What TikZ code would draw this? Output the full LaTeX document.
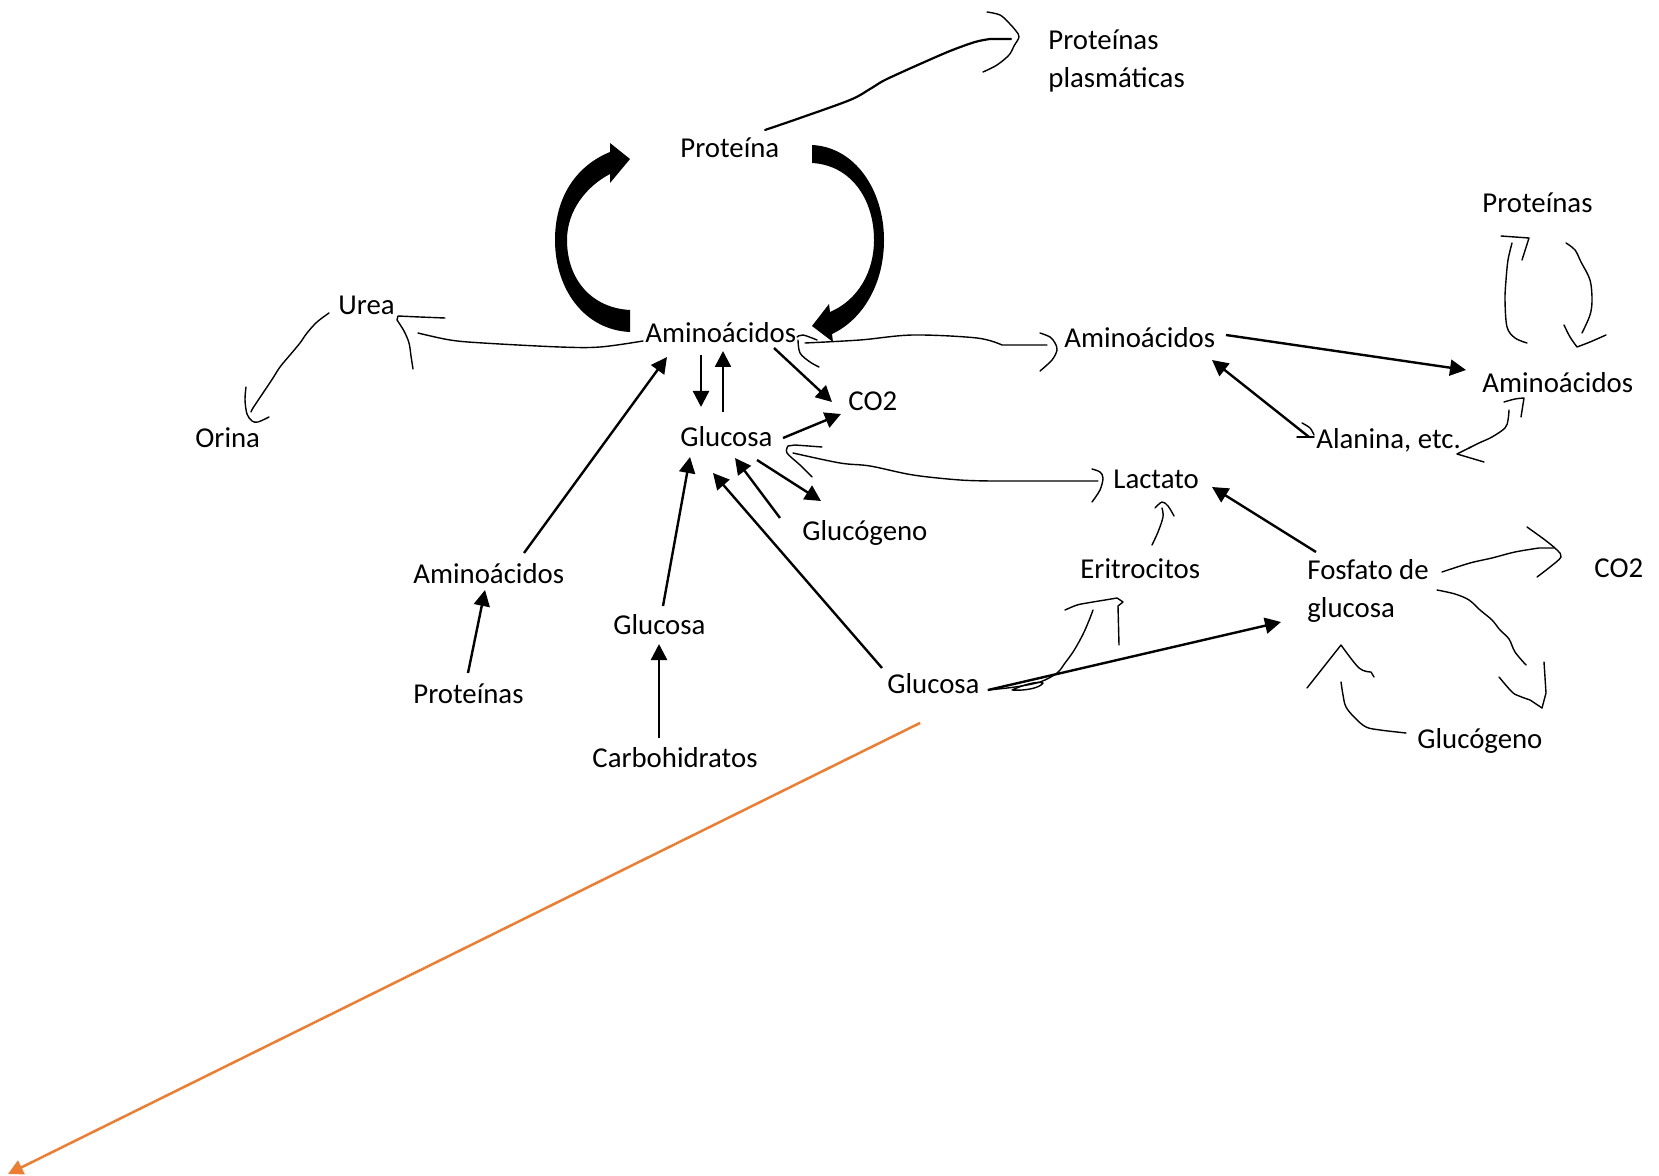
\documentclass[tikz,border=0pt]{standalone}
\usepackage{fontspec}
\setmainfont{Carlito}
\usetikzlibrary{arrows.meta,calc}
\definecolor{orng}{RGB}{237,125,49}
\begin{document}
\begin{tikzpicture}[x=0.5pt,y=-0.5pt,
  lbl/.style={inner sep=0pt, anchor=base west, font=\fontsize{14.4pt}{19pt}\selectfont},
  arr/.style={line width=1.2pt, -{Triangle[length=8pt,width=8pt]}},
  orarr/.style={draw=orng, line width=1.25pt, -{Triangle[length=7.5pt,width=7.5pt]}},
  hand/.style={line width=0.7pt, line cap=round, line join=round},
  handthick/.style={line width=1.1pt, line cap=round, line join=round},
  sm/.style={smooth, tension=0.55}]
\useasboundingbox (0,0) rectangle (1659,1176);

% ---------- labels ----------
\node[lbl] (prot) at (680,158) {Proteína};
\node[lbl, align=left] (pp) at (1048,88) {Proteínas\\plasmáticas};
\node[lbl] (protR) at (1482,213) {Proteínas};
\node[lbl] (urea) at (338,315) {Urea};
\node[lbl] (amC) at (645,343) {Aminoácidos};
\node[lbl] (amM) at (1064,348) {Aminoácidos};
\node[lbl] (amR) at (1482,393) {Aminoácidos};
\node[lbl] (co2C) at (848,410) {CO2};
\node[lbl] (orina) at (195,447) {Orina};
\node[lbl] (glcC) at (680,446) {Glucosa};
\node[lbl] (ala) at (1316,448) {Alanina, etc.};
\node[lbl] (lac) at (1113,488) {Lactato};
\node[lbl] (gcgC) at (802,540) {Glucógeno};
\node[lbl] (eri) at (1080,578) {Eritrocitos};
\node[lbl, align=left] (fos) at (1307,617) {Fosfato de\\glucosa};
\node[lbl] (co2R) at (1594,577) {CO2};
\node[lbl] (amL) at (413,583) {Aminoácidos};
\node[lbl] (glcM) at (613,634) {Glucosa};
\node[lbl] (glcB) at (887,693) {Glucosa};
\node[lbl] (protL) at (413,703) {Proteínas};
\node[lbl] (gcgR) at (1417,748) {Glucógeno};
\node[lbl] (carb) at (592,767) {Carbohidratos};
\coordinate (orEnd) at (8,1174);

% ---------- big curved arrows ----------
\fill (630,332) .. controls (585,330) and (555,290) .. (555,240)
  .. controls (555,195) and (578,165) .. (610,152) -- (610,143) -- (630,159)
  -- (610,183) -- (610,174) .. controls (587,186) and (567,210) .. (567,240)
  .. controls (567,280) and (592,308) .. (630,310) -- cycle;
\fill (812,145) .. controls (855,147) and (884,190) .. (884,240)
  .. controls (884,285) and (862,320) .. (832,334) -- (833,342) -- (812,326)
  -- (829,304) -- (830,312) .. controls (858,300) and (874,272) .. (874,240)
  .. controls (874,198) and (850,165) .. (812,163) -- cycle;

% ---------- straight arrows ----------
\draw[arr] ($(amC.base west)+(56,12)$) -- ($(glcC.base west)+(21,-39)$);
\draw[arr] ($(glcC.base west)+(43,-34)$) -- ($(amC.base west)+(78,8)$);
\draw[arr] ($(amC.base west)+(129,5)$) -- ($(co2C.base west)+(-16,-8)$);
\draw[arr] ($(glcC.base west)+(103,-8)$) -- ($(co2C.base west)+(-7,4)$);
\draw[arr] ($(glcC.base west)+(77,14)$) -- ($(gcgC.base west)+(19,-39)$);
\draw[arr] ($(gcgC.base west)+(-22,-22)$) -- ($(glcC.base west)+(55,12)$);
\draw[arr] ($(glcM.base west)+(50,-28)$) -- ($(glcC.base west)+(10,11)$);
\draw[arr] ($(glcB.base west)+(-5,-25)$) -- ($(glcC.base west)+(33,27)$);
\draw[arr] ($(amL.base west)+(111,-30)$) -- ($(amC.base west)+(22,14)$);
\draw[arr] ($(protL.base west)+(55,-30)$) -- ($(amL.base west)+(72,7)$);
\draw[arr] ($(carb.base west)+(67,-29)$) -- ($(glcM.base west)+(46,10)$);
\draw[arr] ($(glcB.base west)+(101,-3)$) -- ($(fos.base west)+(-26,5)$);
\draw[arr] ($(fos.base west)+(9,-65)$) -- ($(lac.base west)+(99,-1)$);
\draw[arr] ($(amM.base west)+(162,-13)$) -- ($(amR.base west)+(-16,-23)$);
\draw[arr] ($(ala.base west)+(-7,-11)$) -- ($(amM.base west)+(148,12)$);
\draw[orarr] ($(glcB.base west)+(33,30)$) -- (orEnd);

% ---------- hand-drawn strokes ----------
% Proteina -> Proteinas plasmaticas
\draw[handthick] plot[sm] coordinates {(765,130) (800,118) (850,100) (870,89) (883,81) (900,73) (920,64) (950,51) (975,42) (990,39)} -- (1011,39);
\draw[hand] plot[sm] coordinates {(987,12) (1000,15) (1009,23) (1016,31) (1019,37) (1014,46) (1009,55) (997,65) (983,72)};
% Aminoacidos -> Urea
\draw[hand] plot[sm] coordinates {(643,341) (600,347) (560,347) (483,343) (450,340) (418,333)};
\draw[hand] plot[sm] coordinates {(445,318) (420,317) (398,316)} -- (397,320) -- plot[sm] coordinates {(397,320) (404,331) (409,343) (411,356) (413,369)};
% Urea -> Orina
\draw[hand] plot[sm] coordinates {(329,313) (317,322) (307,333) (300,343) (290,355) (280,367) (273,378) (263,393) (253,408) (251,412)};
\draw[hand] plot[sm] coordinates {(246,387) (245,400) (247,414) (252,421) (258,422) (269,417)};
% Aminoacidos <-> Aminoacidos
\draw[hand] plot[sm] coordinates {(805,343) (860,340) (913,335) (977,338) (1002,345)} -- (1047,345);
\draw[hand] plot[sm] coordinates {(1040,333) (1050,337) (1055,343) (1057,350) (1052,360) (1040,371)};
\draw[hand] plot[sm] coordinates {(797,337) (803,335) (817,340)};
\draw[hand] plot[sm] coordinates {(798,340) (800,353) (810,362) (819,367)};
% Lactato <-> Glucosa
\draw[hand] plot[sm] coordinates {(822,447) (795,445)} -- (788,446) -- plot[sm] coordinates {(788,446) (787,453) (800,465) (812,477)};
\draw[hand] plot[sm] coordinates {(793,453) (840,463) (870,466) (913,475) (960,480) (993,481)} -- (1098,481);
\draw[hand] plot[sm] coordinates {(1092,469) (1100,472) (1103,478) (1100,490) (1092,502)};
% Eritrocitos -> Lactato
\draw[hand] plot[sm] coordinates {(1152,545) (1158,532) (1163,517) (1162,508)};
\draw[hand] plot[sm] coordinates {(1155,508) (1162,502) (1168,506) (1174,516)};
% Glucosa -> Eritrocitos
\draw[hand] plot[sm] coordinates {(988,690) (1015,687) (1040,682) (1057,673) (1065,663) (1073,652) (1080,640) (1085,630) (1090,618) (1093,610)};
\draw[hand] (1012,690) .. controls (1025,684) and (1038,681) .. (1043,683) .. controls (1040,688) and (1025,691) .. (1012,690);
\draw[hand] plot[sm] coordinates {(1065,610) (1077,605) (1087,603) (1105,600) (1117,598)} -- (1123,602) -- (1118,606) -- (1119,645);
% Alanina <-> Aminoacidos (right)
\draw[hand] plot[sm] coordinates {(1504,402) (1515,399) (1524,398)} -- (1521,417);
\draw[hand] plot[sm] coordinates {(1509,410) (1508,420) (1505,428) (1492,437) (1479,443) (1469,448)};
\draw[hand] (1471,447) -- (1457,454) -- (1484,462);
\draw[hand] plot[sm] coordinates {(1302,423) (1310,428) (1314,435)};
\draw[hand] (1297,437) -- (1314,437);
% Aminoacidos <-> Proteinas (right loop)
\draw[hand] plot[sm] coordinates {(1527,343) (1515,338) (1507,327) (1505,300) (1506,280) (1508,260) (1512,243)};
\draw[hand] (1501,236) -- (1529,238) -- (1522,260);
\draw[hand] plot[sm] coordinates {(1566,243) (1575,250) (1581,262) (1590,280) (1592,300) (1590,315) (1582,333)};
\draw[hand] plot[sm] coordinates {(1564,325) (1570,337) (1577,347)} -- plot[sm] coordinates {(1577,347) (1590,342) (1606,335)};
% Fosfato -> CO2
\draw[hand] plot[sm] coordinates {(1442,572) (1470,563) (1492,558) (1515,552) (1539,548)} -- (1554,548);
\draw[hand] plot[sm] coordinates {(1527,527) (1545,540) (1557,550) (1561,557) (1550,567) (1537,577)};
% Fosfato -> Glucogeno
\draw[hand] plot[sm] coordinates {(1437,590) (1455,594) (1469,600) (1480,610) (1492,620) (1500,630) (1509,639) (1515,652) (1526,665)};
\draw[hand] plot[sm] coordinates {(1499,677) (1512,692) (1519,696) (1530,700)} -- (1542,708);
\draw[hand] plot[sm] coordinates {(1544,662) (1546,693)} -- (1542,708);
% Glucogeno -> Fosfato
\draw[hand] plot[sm] coordinates {(1406,733) (1380,730) (1366,727) (1355,718) (1346,707) (1343,695) (1341,682)};
\draw[hand] (1307,688) -- (1341,645) -- plot[sm] coordinates {(1341,645) (1359,668) (1371,672)} -- (1374,677);
\end{tikzpicture}
\end{document}
